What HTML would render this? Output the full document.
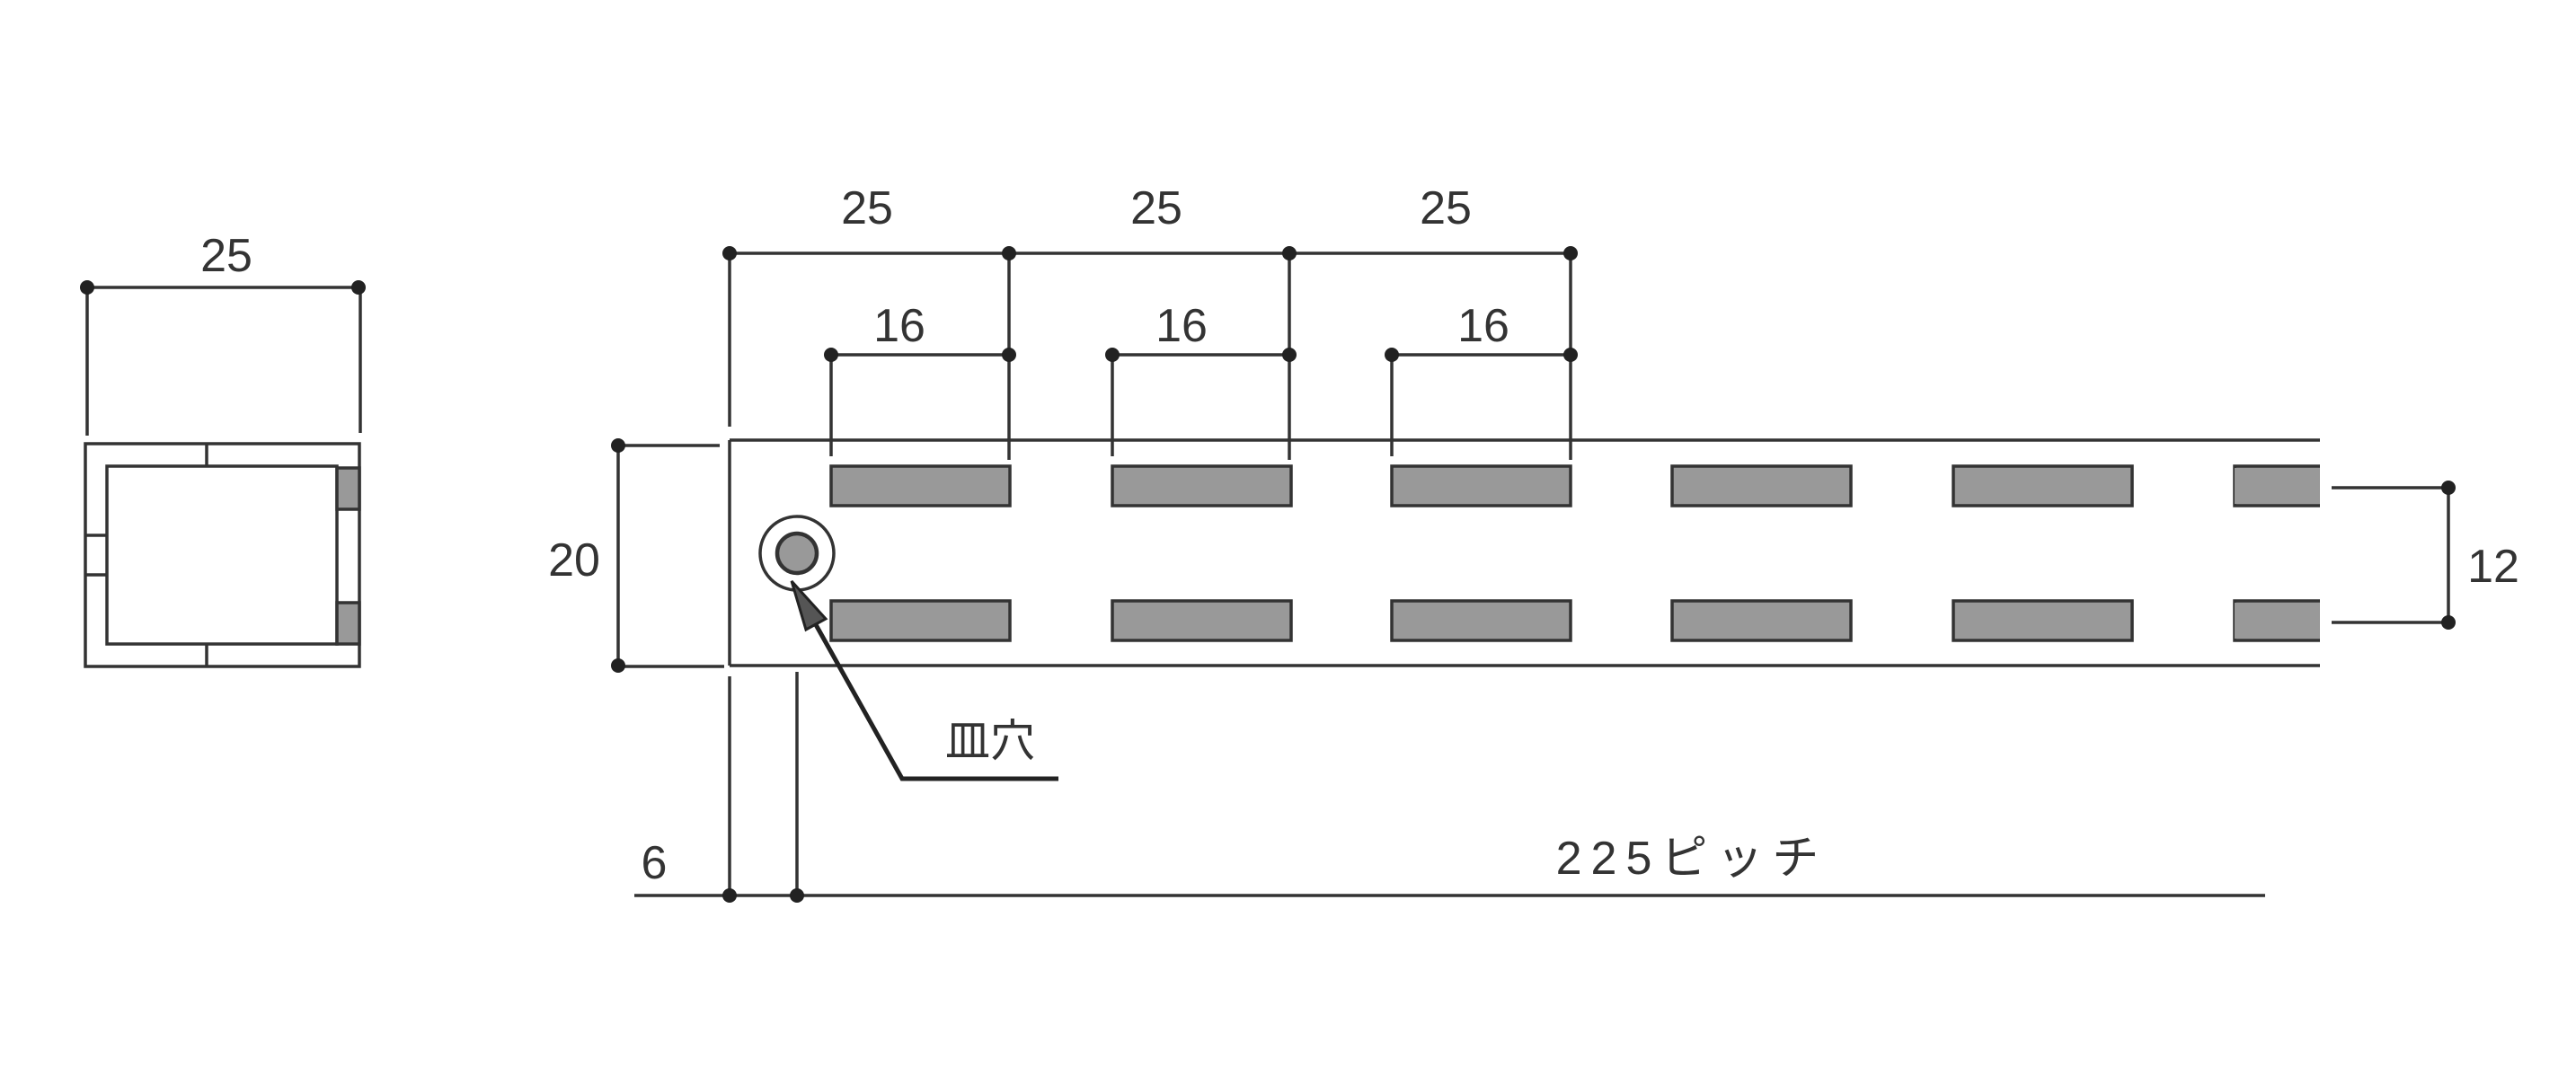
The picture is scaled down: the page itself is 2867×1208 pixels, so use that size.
<!DOCTYPE html>
<html><head><meta charset="utf-8"><style>
html,body{margin:0;padding:0;background:#fff;}
svg{display:block;}
text{font-family:"Liberation Sans","Noto Sans CJK JP",sans-serif;fill:#333;}
</style></head><body>
<svg width="2867" height="1208" viewBox="0 0 2867 1208" xmlns="http://www.w3.org/2000/svg">
<g stroke="#333" stroke-width="3.5" fill="none">
<line x1="97" y1="320" x2="399" y2="320"/>
<line x1="97" y1="320" x2="97" y2="485"/>
<line x1="401" y1="320" x2="401" y2="482"/>
<rect x="95" y="494" width="305" height="248"/>
<rect x="119" y="519" width="256" height="198"/>
<rect x="375" y="521" width="25" height="46" fill="#999"/>
<rect x="375" y="671" width="25" height="46" fill="#999"/>
<line x1="230" y1="494" x2="230" y2="519"/>
<line x1="230" y1="717" x2="230" y2="742"/>
<line x1="95" y1="596" x2="119" y2="596"/>
<line x1="95" y1="640" x2="119" y2="640"/>
<line x1="812" y1="490" x2="2582" y2="490"/>
<line x1="812" y1="741" x2="2582" y2="741"/>
<line x1="812" y1="490" x2="812" y2="741"/>
<g fill="#999">
<rect x="925" y="519" width="199" height="44"/><rect x="1238" y="519" width="199" height="44"/><rect x="1549" y="519" width="199" height="44"/><rect x="1861" y="519" width="199" height="44"/><rect x="2174" y="519" width="199" height="44"/>
<path d="M2582 519 H2487 V563 H2582"/>
<rect x="925" y="669" width="199" height="44"/><rect x="1238" y="669" width="199" height="44"/><rect x="1549" y="669" width="199" height="44"/><rect x="1861" y="669" width="199" height="44"/><rect x="2174" y="669" width="199" height="44"/>
<path d="M2582 669 H2487 V713 H2582"/>
</g>
<rect x="2487" y="521" width="94" height="40" fill="#999" stroke="none"/>
<rect x="2487" y="671" width="94" height="40" fill="#999" stroke="none"/>
<circle cx="887" cy="616" r="41"/>
<circle cx="887" cy="616" r="22" fill="#999" stroke-width="4.5"/>
<line x1="812" y1="282" x2="1748" y2="282"/>
<line x1="812" y1="282" x2="812" y2="475"/>
<line x1="1123" y1="282" x2="1123" y2="512"/>
<line x1="1435" y1="282" x2="1435" y2="512"/>
<line x1="1748" y1="282" x2="1748" y2="512"/>
<line x1="925" y1="395" x2="1123" y2="395"/>
<line x1="1238" y1="395" x2="1435" y2="395"/>
<line x1="1549" y1="395" x2="1748" y2="395"/>
<line x1="925" y1="395" x2="925" y2="508"/>
<line x1="1238" y1="395" x2="1238" y2="508"/>
<line x1="1549" y1="395" x2="1549" y2="508"/>
<line x1="688" y1="496" x2="688" y2="741"/>
<line x1="688" y1="496" x2="801" y2="496"/>
<line x1="688" y1="742" x2="806" y2="742"/>
<line x1="2725" y1="543" x2="2725" y2="693"/>
<line x1="2595" y1="543" x2="2725" y2="543"/>
<line x1="2595" y1="693" x2="2725" y2="693"/>
<line x1="706" y1="997" x2="2521" y2="997"/>
<line x1="812" y1="753" x2="812" y2="997"/>
<line x1="887" y1="748" x2="887" y2="997"/>
<polyline points="887,658 1004,867 1178,867" stroke="#222" stroke-width="5"/>
<polygon points="881,647 919,689 897,701" fill="#555" stroke="#222" stroke-width="3"/>
</g>
<g fill="#222">
<circle cx="97" cy="320" r="8"/><circle cx="399" cy="320" r="8"/>
<circle cx="812" cy="282" r="8"/><circle cx="1123" cy="282" r="8"/><circle cx="1435" cy="282" r="8"/><circle cx="1748" cy="282" r="8"/>
<circle cx="925" cy="395" r="8"/><circle cx="1123" cy="395" r="8"/><circle cx="1238" cy="395" r="8"/><circle cx="1435" cy="395" r="8"/><circle cx="1549" cy="395" r="8"/><circle cx="1748" cy="395" r="8"/>
<circle cx="688" cy="496" r="8"/><circle cx="688" cy="741" r="8"/>
<circle cx="2725" cy="543" r="8"/><circle cx="2725" cy="693" r="8"/>
<circle cx="812" cy="997" r="8"/><circle cx="887" cy="997" r="8"/>
</g>
<g font-size="52" text-anchor="middle">
<text x="252" y="302">25</text>
<text x="965" y="249">25</text>
<text x="1287" y="249">25</text>
<text x="1609" y="249">25</text>
<text x="1001" y="380">16</text>
<text x="1315" y="380">16</text>
<text x="1651" y="380">16</text>
<text x="639" y="641">20</text>
<text x="2775" y="648">12</text>
<text x="728" y="978">6</text>
<text x="1883" y="973" letter-spacing="10">225ピッチ</text>
<text x="1102" y="842" font-size="50">皿穴</text>
</g>
</svg>
</body></html>
